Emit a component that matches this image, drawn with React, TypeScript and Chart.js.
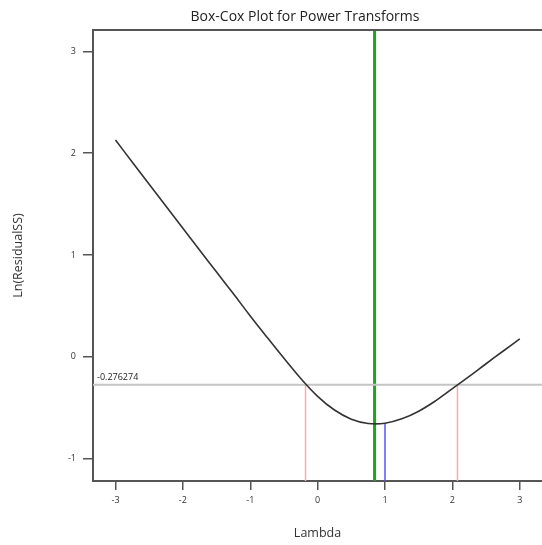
import React, { useEffect, useRef } from "react";
import { Chart, registerables } from "chart.js";

Chart.register(...registerables);

// ---- Data ----
const chartTitle = "Box-Cox Plot for Power Transforms";
const xAxisTitle = "Lambda";
const yAxisTitle = "Ln(ResidualSS)";

const lambdas = [-3, -2.75, -2.5, -2.25, -2, -1.75, -1.5, -1.25, -1, -0.75, -0.5, -0.25, 0, 0.25, 0.5, 0.75, 1, 1.25, 1.5, 1.75, 2, 2.25, 2.5, 2.75, 3];
const lnResidualSS = [2.13, 1.912, 1.695, 1.478, 1.262, 1.046, 0.832, 0.618, 0.4, 0.19, -0.015, -0.215, -0.39, -0.525, -0.615, -0.657, -0.655, -0.612, -0.537, -0.435, -0.315, -0.195, -0.07, 0.053, 0.174];

const bestLambda = 0.845;
const roundedLambda = 1;
const roundedLambdaLnSS = -0.655;
const ciLow = -0.18;
const ciHigh = 2.075;
const ciThreshold = -0.276274;
const ciThresholdLabel = "-0.276274";

const xMin = -3.334;
const xMax = 3.33;
const yMin = -1.223;
const yMax = 3.212;
const tickStep = 1;

const FONT = "'Open Sans', 'Noto Sans', 'DejaVu Sans', sans-serif";

const framePlugin = {
  id: "frameAndLabels",
  afterDraw(chart: any) {
    const { ctx, chartArea } = chart;
    const yScale = chart.scales.y;
    ctx.save();
    // top border
    ctx.strokeStyle = "#555555";
    ctx.lineWidth = 2;
    ctx.beginPath();
    ctx.moveTo(chartArea.left - 1, chartArea.top);
    ctx.lineTo(chart.width, chartArea.top);
    ctx.stroke();
    // threshold label
    ctx.fillStyle = "#222222";
    ctx.font = `9px ${FONT}`;
    ctx.textAlign = "left";
    ctx.textBaseline = "bottom";
    ctx.fillText(ciThresholdLabel, chartArea.left + 4, yScale.getPixelForValue(ciThreshold) - 3);
    // chart title
    ctx.fillStyle = "#222222";
    ctx.font = `14px ${FONT}`;
    ctx.textAlign = "center";
    ctx.textBaseline = "middle";
    ctx.fillText(chartTitle, 305, 17);
    ctx.restore();
  },
};

export default function App() {
  const canvasRef = useRef<HTMLCanvasElement | null>(null);

  useEffect(() => {
    if (!canvasRef.current) return;
    const curve = lambdas.map((l, i) => ({ x: l, y: lnResidualSS[i] }));
    const chart = new Chart(canvasRef.current, {
      type: "line",
      data: {
        datasets: [
          {
            label: "Ln(ResidualSS)",
            data: curve,
            borderColor: "#333333",
            borderWidth: 1.6,
            pointRadius: 0,
            tension: 0.4,
            fill: false,
          },
          {
            label: "threshold",
            data: [
              { x: xMin, y: ciThreshold },
              { x: xMax, y: ciThreshold },
            ],
            borderColor: "#c4c4c4",
            borderWidth: 2.2,
            pointRadius: 0,
          },
          {
            label: "rounded lambda",
            data: [
              { x: roundedLambda, y: yMin },
              { x: roundedLambda, y: roundedLambdaLnSS },
            ],
            borderColor: "#5555ff",
            borderWidth: 1.5,
            pointRadius: 0,
          },
          {
            label: "ci low",
            data: [
              { x: ciLow, y: yMin },
              { x: ciLow, y: ciThreshold },
            ],
            borderColor: "#ffaaaa",
            borderWidth: 1.5,
            pointRadius: 0,
          },
          {
            label: "ci high",
            data: [
              { x: ciHigh, y: yMin },
              { x: ciHigh, y: ciThreshold },
            ],
            borderColor: "#ffaaaa",
            borderWidth: 1.5,
            pointRadius: 0,
          },
          {
            label: "best lambda",
            data: [
              { x: bestLambda, y: yMin },
              { x: bestLambda, y: yMax },
            ],
            borderColor: "#1fa31f",
            borderWidth: 3,
            pointRadius: 0,
          },
        ],
      },
      options: {
        animation: false,
        responsive: false,
        maintainAspectRatio: false,
        layout: { padding: { top: 30, left: 0, right: 0, bottom: 0 } },
        plugins: {
          legend: { display: false },
          tooltip: { enabled: false },
          title: { display: false },
        },
        scales: {
          x: {
            type: "linear",
            min: xMin,
            max: xMax,
            afterFit: (scale: any) => {
              scale.height = 64;
            },
            ticks: {
              stepSize: tickStep,
              includeBounds: false,
              padding: 5,
              color: "#333333",
              font: { size: 9, family: FONT },
              maxRotation: 0,
            },
            grid: {
              drawOnChartArea: false,
              drawTicks: true,
              tickLength: 9,
              color: "#555555",
              lineWidth: 1.5,
            },
            border: { display: true, color: "#555555", width: 2 },
            title: {
              display: true,
              text: xAxisTitle,
              color: "#333333",
              font: { size: 12.5, family: FONT },
              padding: { top: 0, bottom: 4 },
            },
          },
          y: {
            type: "linear",
            min: yMin,
            max: yMax,
            afterFit: (scale: any) => {
              scale.width = 93;
            },
            ticks: {
              stepSize: tickStep,
              includeBounds: false,
              padding: 7,
              color: "#333333",
              font: { size: 9, family: FONT },
            },
            grid: {
              drawOnChartArea: false,
              drawTicks: true,
              tickLength: 10,
              color: "#555555",
              lineWidth: 1.5,
            },
            border: { display: true, color: "#555555", width: 2 },
            title: {
              display: true,
              text: yAxisTitle,
              color: "#333333",
              font: { size: 12.5, family: FONT },
              padding: { top: 11, bottom: 0 },
            },
          },
        },
      },
      plugins: [framePlugin],
    } as any);
    return () => chart.destroy();
  }, []);

  return (
    <div style={{ position: "fixed", left: 0, top: 0, width: 542, height: 545, background: "#ffffff" }}>
      <canvas ref={canvasRef} width={542} height={545} style={{ display: "block", width: 542, height: 545 }} />
    </div>
  );
}
